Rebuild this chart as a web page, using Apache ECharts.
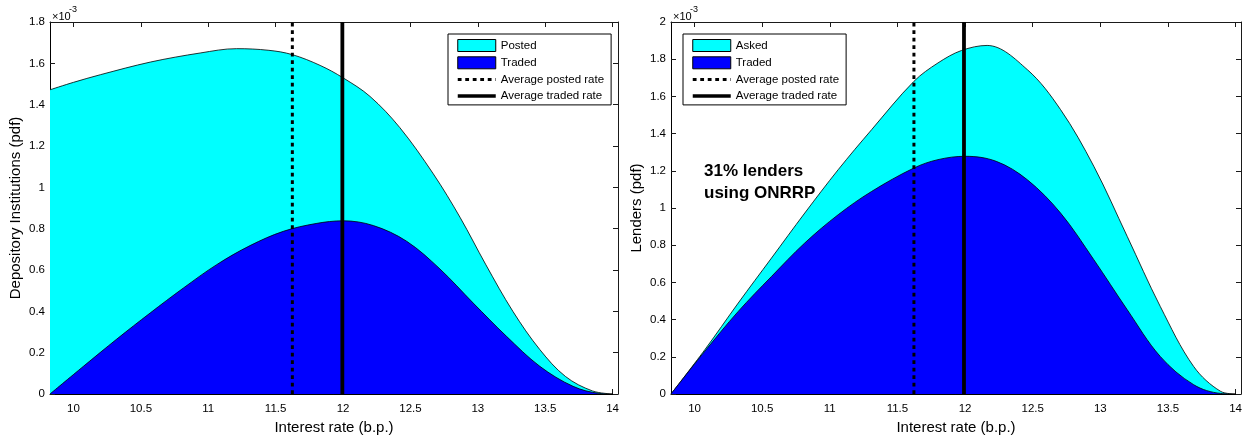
<!DOCTYPE html>
<html>
<head>
<meta charset="utf-8">
<script src="https://cdn.jsdelivr.net/npm/echarts@6/dist/echarts.min.js"></script>
<style>
html,body{margin:0;padding:0;background:#fff;}
#chart{width:1251px;height:442px;}
</style>
</head>
<body>
<div id="chart"></div>
<script>
// ---------- data (values in units of 1e-3) ----------
const xTicks = [10, 10.5, 11, 11.5, 12, 12.5, 13, 13.5, 14];
const xMin = 9.826, xMax = 14.04;

// Left panel: Depository Institutions
const diPostedX = [9.826, 10.0, 10.2, 10.57, 10.94, 11.21, 11.45, 11.624, 11.83, 12.0, 12.2, 12.42, 12.67, 12.868, 13.06, 13.26, 13.46, 13.65, 13.85, 14.0];
const diPostedY = [1.472, 1.508, 1.545, 1.606, 1.650, 1.671, 1.663, 1.642, 1.590, 1.530, 1.440, 1.290, 1.065, 0.855, 0.625, 0.400, 0.215, 0.085, 0.015, 0];
const diTradedX = [9.826, 10.074, 10.322, 10.569, 10.816, 11.063, 11.31, 11.557, 11.8, 12.0, 12.225, 12.472, 12.719, 12.966, 13.213, 13.46, 13.707, 13.9, 14.0];
const diTradedY = [0, 0.134, 0.266, 0.392, 0.513, 0.626, 0.718, 0.787, 0.825, 0.838, 0.815, 0.739, 0.605, 0.440, 0.279, 0.134, 0.037, 0.003, 0];
const diAvgPosted = 11.624;
const diAvgTraded = 11.995;
const diYMax = 1.8;

// Right panel: Lenders
const lAskedX = [9.826, 10.076, 10.323, 10.569, 10.815, 11.062, 11.309, 11.622, 11.80, 11.974, 12.163, 12.46, 12.706, 12.952, 13.199, 13.443, 13.69, 13.89, 14.0];
const lAskedY = [0, 0.238, 0.489, 0.731, 0.973, 1.206, 1.421, 1.681, 1.780, 1.847, 1.874, 1.744, 1.529, 1.224, 0.847, 0.471, 0.148, 0.014, 0];
const lTradedX = [9.826, 10.076, 10.323, 10.569, 10.815, 11.062, 11.309, 11.622, 11.80, 12.0, 12.23, 12.46, 12.706, 12.952, 13.199, 13.443, 13.69, 13.89, 14.0];
const lTradedY = [0, 0.230, 0.444, 0.632, 0.812, 0.964, 1.089, 1.215, 1.260, 1.278, 1.251, 1.152, 0.973, 0.722, 0.453, 0.202, 0.050, 0.003, 0];
const lAvgPosted = 11.622;
const lAvgTraded = 11.992;
const lYMax = 2.0;

const leftYName = 'Depository Institutions (pdf)';
const rightYName = 'Lenders (pdf)';
const xName = 'Interest rate (b.p.)';
const leftLegend = ['Posted', 'Traded', 'Average posted rate', 'Average traded rate'];
const rightLegend = ['Asked', 'Traded', 'Average posted rate', 'Average traded rate'];
const noteLines = ['31% lenders', 'using ONRRP'];

// ---------- helpers ----------
const FONT = '"Liberation Sans", Arial, Helvetica, sans-serif';
const CYAN = '#00ffff', BLUE = '#0000ff', AX = '#1a1a1a';
const DOT = [3.8, 3.7];
const zip = (xs, ys) => xs.map((x, i) => [x, ys[i]]);

function bottomX(g) {
  return {
    gridIndex: g, type: 'value', min: xMin, max: xMax, position: 'bottom',
    axisLine: { onZero: false, lineStyle: { color: '#000', width: 1 } },
    axisTick: { inside: true, length: 5, customValues: xTicks, lineStyle: { color: AX } },
    axisLabel: { customValues: xTicks, margin: 9, fontSize: 11.5, color: '#000', fontFamily: FONT },
    splitLine: { show: false },
    name: xName, nameLocation: 'middle', nameGap: 26,
    nameTextStyle: { fontSize: 15, color: '#000', fontFamily: FONT }
  };
}
function topX(g) {
  return {
    gridIndex: g, type: 'value', min: xMin, max: xMax, position: 'top',
    axisLine: { onZero: false, lineStyle: { color: AX, width: 1 } },
    axisTick: { inside: true, length: 5, customValues: xTicks, lineStyle: { color: AX } },
    axisLabel: { show: false }, splitLine: { show: false }
  };
}
function leftY(g, max, name) {
  return {
    gridIndex: g, type: 'value', min: 0, max: max, interval: 0.2, position: 'left',
    axisLine: { show: true, onZero: false, lineStyle: { color: '#000', width: 1 } },
    axisTick: { show: true, inside: true, length: 5, lineStyle: { color: AX } },
    axisLabel: { margin: 5, fontSize: 11.5, color: '#000', fontFamily: FONT },
    splitLine: { show: false },
    name: name, nameLocation: 'middle', nameGap: 27,
    nameTextStyle: { fontSize: 15, color: '#000', fontFamily: FONT }
  };
}
function rightY(g, max) {
  return {
    gridIndex: g, type: 'value', min: 0, max: max, interval: 0.2, position: 'right',
    axisLine: { show: true, onZero: false, lineStyle: { color: AX, width: 1 } },
    axisTick: { show: true, inside: true, length: 5, lineStyle: { color: AX } },
    axisLabel: { show: false }, splitLine: { show: false }
  };
}
function areaSeries(name, xi, yi, data, color, z) {
  return {
    type: 'line', name: name, xAxisIndex: xi, yAxisIndex: yi, data: data,
    symbol: 'none', smooth: 0.35,
    lineStyle: { color: '#000', width: 0.8 },
    itemStyle: { color: color },
    areaStyle: { color: color, opacity: 1 },
    z: z, silent: true, animation: false
  };
}
function vSeries(name, xi, yi, x, ymax, dotted) {
  return {
    type: 'line', name: name, xAxisIndex: xi, yAxisIndex: yi,
    data: [[x, 0], [x, ymax]], symbol: 'none',
    lineStyle: { color: '#000', width: dotted ? 3 : 3.8, type: dotted ? DOT : 'solid', cap: 'butt' },
    itemStyle: { color: '#000' },
    z: dotted ? 6 : 7, silent: true, animation: false
  };
}
function legendFor(names, left, colors) {
  return {
    left: left, top: 34, orient: 'vertical', selectedMode: false,
    backgroundColor: '#fff', borderColor: '#000', borderWidth: 1,
    padding: [5, 7, 3, 8], itemWidth: 38, itemHeight: 12, itemGap: 4.3,
    textStyle: { fontSize: 11.5, color: '#000', fontFamily: FONT, lineHeight: 12 },
    data: [
      { name: names[0], icon: 'rect', itemStyle: { color: colors[0], borderColor: '#000', borderWidth: 1 } },
      { name: names[1], icon: 'rect', itemStyle: { color: colors[1], borderColor: '#000', borderWidth: 1 } },
      { name: names[2], itemStyle: { opacity: 0 }, lineStyle: { width: 3, type: DOT, color: '#000' } },
      { name: names[3], itemStyle: { opacity: 0 }, lineStyle: { width: 3.5, type: 'solid', color: '#000' } }
    ]
  };
}
function expText(x) {
  return [
    { type: 'text', x: x, y: 16.5, style: { text: '\u00d710', font: '11px ' + FONT, fill: '#000', verticalAlign: 'middle' } },
    { type: 'text', x: x + 17, y: 9.5, style: { text: '-3', font: '9px ' + FONT, fill: '#000', verticalAlign: 'middle' } }
  ];
}

const option = {
  backgroundColor: '#fff',
  animation: false,
  grid: [
    { left: 50, top: 22, width: 568, height: 372 },
    { left: 671, top: 22, width: 570, height: 372 }
  ],
  xAxis: [bottomX(0), topX(0), bottomX(1), topX(1)],
  yAxis: [leftY(0, diYMax, leftYName), rightY(0, diYMax), leftY(1, lYMax, rightYName), rightY(1, lYMax)],
  legend: [legendFor(leftLegend, 448, [CYAN, BLUE]), legendFor(rightLegend, 683, [CYAN, BLUE])],
  series: [
    areaSeries(leftLegend[0], 0, 0, zip(diPostedX, diPostedY), CYAN, 2),
    areaSeries(leftLegend[1], 0, 0, zip(diTradedX, diTradedY), BLUE, 3),
    vSeries(leftLegend[2], 0, 0, diAvgPosted, diYMax, true),
    vSeries(leftLegend[3], 0, 0, diAvgTraded, diYMax, false),
    areaSeries(rightLegend[0], 2, 2, zip(lAskedX, lAskedY), CYAN, 2),
    areaSeries(rightLegend[1], 2, 2, zip(lTradedX, lTradedY), BLUE, 3),
    vSeries(rightLegend[2], 2, 2, lAvgPosted, lYMax, true),
    vSeries(rightLegend[3], 2, 2, lAvgTraded, lYMax, false)
  ],
  graphic: [].concat(expText(52), expText(673), [
    { type: 'text', x: 704, y: 171.7, style: { text: noteLines[0], font: 'bold 17px ' + FONT, fill: '#000', verticalAlign: 'middle' } },
    { type: 'text', x: 704, y: 193.3, style: { text: noteLines[1], font: 'bold 17px ' + FONT, fill: '#000', verticalAlign: 'middle' } }
  ])
};

const chart = echarts.init(document.getElementById('chart'), null, { renderer: 'canvas' });
chart.setOption(option);
</script>
</body>
</html>
